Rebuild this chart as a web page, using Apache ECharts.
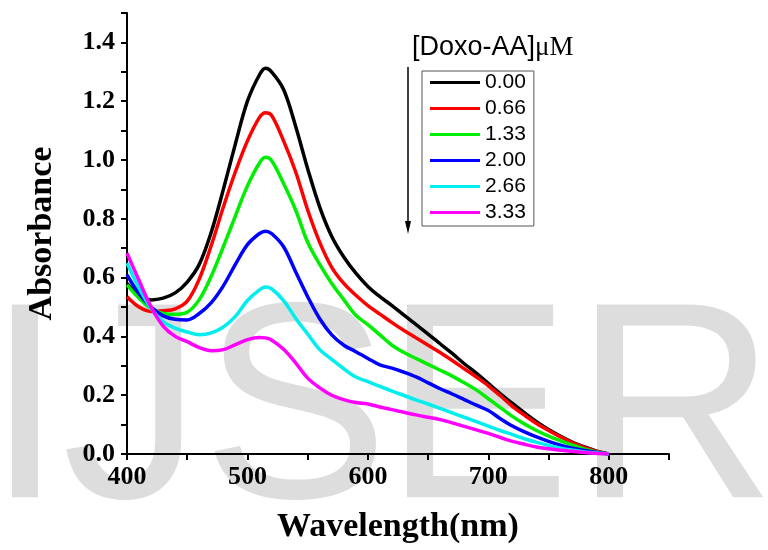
<!DOCTYPE html>
<html>
<head>
<meta charset="utf-8">
<script src="https://cdn.jsdelivr.net/npm/echarts@6/dist/echarts.min.js"></script>
<style>
    html, body { margin: 0; padding: 0; background: #fff; }
    #main { width: 768px; height: 550px; }
</style>
</head>
<body>
<div id="main"></div>
<script>
// wavelength (nm)
var wavelength = [400, 410, 420, 430, 440, 450, 460, 470, 480, 490,
    500, 510, 515, 520, 530, 540, 550, 560, 570, 580, 590,
    600, 610, 620, 630, 640, 650, 660, 670, 680, 690,
    700, 710, 720, 730, 740, 750, 760, 770, 780, 790, 800];

// absorbance for each [Doxo-AA] concentration
var abs000 = [0.580, 0.540, 0.524, 0.530, 0.548, 0.585, 0.645, 0.755, 0.900, 1.055,
    1.200, 1.290, 1.312, 1.300, 1.240, 1.115, 0.970, 0.840, 0.740, 0.670, 0.615,
    0.570, 0.535, 0.505, 0.472, 0.440, 0.408, 0.375, 0.342, 0.307, 0.275,
    0.240, 0.205, 0.172, 0.140, 0.110, 0.083, 0.060, 0.040, 0.024, 0.010, 0.0];
var abs066 = [0.535, 0.500, 0.485, 0.487, 0.494, 0.520, 0.595, 0.710, 0.840, 0.960,
    1.065, 1.145, 1.161, 1.152, 1.065, 0.960, 0.830, 0.720, 0.635, 0.580, 0.540,
    0.505, 0.476, 0.447, 0.420, 0.395, 0.370, 0.345, 0.318, 0.290, 0.262,
    0.232, 0.198, 0.162, 0.132, 0.104, 0.080, 0.058, 0.038, 0.022, 0.009, 0.0];
var abs133 = [0.575, 0.530, 0.495, 0.478, 0.475, 0.482, 0.525, 0.605, 0.705, 0.810,
    0.912, 0.990, 1.009, 0.998, 0.920, 0.830, 0.720, 0.645, 0.580, 0.525, 0.472,
    0.440, 0.405, 0.370, 0.345, 0.325, 0.305, 0.285, 0.265, 0.242, 0.218,
    0.188, 0.158, 0.128, 0.102, 0.080, 0.061, 0.045, 0.030, 0.016, 0.006, 0.0];
var abs200 = [0.609, 0.545, 0.500, 0.470, 0.458, 0.456, 0.478, 0.515, 0.572, 0.645,
    0.712, 0.750, 0.758, 0.750, 0.705, 0.620, 0.535, 0.460, 0.405, 0.370, 0.348,
    0.325, 0.303, 0.292, 0.278, 0.262, 0.242, 0.222, 0.204, 0.185, 0.166,
    0.148, 0.120, 0.095, 0.075, 0.058, 0.043, 0.030, 0.020, 0.012, 0.005, 0.0];
var abs266 = [0.650, 0.565, 0.495, 0.450, 0.428, 0.415, 0.406, 0.412, 0.432, 0.468,
    0.522, 0.558, 0.568, 0.562, 0.522, 0.462, 0.408, 0.355, 0.322, 0.290, 0.262,
    0.246, 0.230, 0.214, 0.199, 0.184, 0.170, 0.155, 0.140, 0.125, 0.110,
    0.095, 0.080, 0.066, 0.052, 0.040, 0.029, 0.020, 0.013, 0.007, 0.003, 0.0];
var abs333 = [0.683, 0.590, 0.500, 0.435, 0.400, 0.382, 0.362, 0.351, 0.355, 0.372,
    0.389, 0.396, 0.395, 0.388, 0.356, 0.310, 0.258, 0.225, 0.200, 0.185, 0.175,
    0.170, 0.160, 0.151, 0.142, 0.133, 0.125, 0.117, 0.106, 0.094, 0.082,
    0.070, 0.056, 0.043, 0.033, 0.024, 0.018, 0.013, 0.009, 0.005, 0.002, 0.0];

var concLabels = ['0.00', '0.66', '1.33', '2.00', '2.66', '3.33'];
var concData = [abs000, abs066, abs133, abs200, abs266, abs333];
var colors = ['#000000', '#ff0000', '#00ee00', '#0000ff', '#00eeee', '#ff00ff'];

function pairs(ys) {
    var out = [];
    for (var i = 0; i < wavelength.length; i++) {
        out.push([wavelength[i], ys[i]]);
    }
    return out;
}

var series = [];
for (var k = 0; k < concLabels.length; k++) {
    series.push({
        name: concLabels[k],
        type: 'line',
        data: pairs(concData[k]),
        showSymbol: false,
        smooth: 0.35,
        lineStyle: { color: colors[k], width: 3.5 },
        itemStyle: { color: colors[k] },
        z: 3
    });
}

var serif = "'Liberation Serif', 'Times New Roman', serif";
var sans = "'Liberation Sans', Arial, sans-serif";

// IJSER watermark letters
var wm = [['I', -14], ['J', 62], ['S', 202], ['E', 384], ['R', 574]];
var graphics = [];
for (var w = 0; w < wm.length; w++) {
    graphics.push({
        type: 'text', z: -10, silent: true,
        style: {
            text: wm[w][0], x: wm[w][1], y: 420,
            font: 'normal 280px ' + sans, fill: '#dddddd',
            textAlign: 'left', textVerticalAlign: 'middle'
        }
    });
}
// legend title
graphics.push({
    type: 'text', z: 10,
    style: {
        x: 412, y: 48, textVerticalAlign: 'middle',
        text: '{a|[Doxo-AA]}{b|μM}',
        rich: {
            a: { fontFamily: sans, fontSize: 27, fill: '#000' },
            b: { fontFamily: serif, fontSize: 27, fill: '#000' }
        }
    }
});
// arrow
graphics.push({
    type: 'line', z: 10,
    shape: { x1: 408, y1: 67, x2: 408, y2: 224 },
    style: { stroke: '#000', lineWidth: 1.5 }
});
graphics.push({
    type: 'polygon', z: 10,
    shape: { points: [[405, 221], [411, 221], [408, 234]] },
    style: { fill: '#000' }
});

var option = {
    animation: false,
    backgroundColor: '#fff',
    color: colors,
    grid: { left: 127, top: 13, right: 99, bottom: 96 },
    legend: {
        orient: 'vertical',
        left: 422, top: 71,
        data: concLabels,
        selectedMode: false,
        icon: 'rect',
        itemWidth: 50, itemHeight: 3,
        itemGap: 5,
        padding: [1, 8, 3, 8],
        borderColor: '#555', borderWidth: 1,
        textStyle: { fontFamily: sans, fontSize: 21, color: '#000' }
    },
    xAxis: {
        type: 'value',
        min: 400, max: 850, interval: 50,
        name: 'Wavelength(nm)',
        nameLocation: 'middle',
        nameGap: 56,
        nameTextStyle: { fontFamily: serif, fontWeight: 'bold', fontSize: 34, color: '#000' },
        axisLine: { show: true, onZero: false, lineStyle: { color: '#000', width: 2 } },
        axisTick: { show: true, inside: false, length: 6, lineStyle: { color: '#000', width: 2 } },
        axisLabel: {
            margin: 10,
            fontFamily: serif, fontWeight: 'bold', fontSize: 26, color: '#000',
            formatter: function (v) { return v % 100 === 0 ? String(v) : ''; }
        },
        splitLine: { show: false }
    },
    yAxis: {
        type: 'value',
        min: 0, max: 1.5, interval: 0.1,
        name: 'Absorbance',
        nameLocation: 'middle',
        nameGap: 68,
        nameRotate: 90,
        nameTextStyle: { fontFamily: serif, fontWeight: 'bold', fontSize: 34, color: '#000' },
        axisLine: { show: true, onZero: false, lineStyle: { color: '#000', width: 2 } },
        axisTick: { show: true, inside: false, length: 6, lineStyle: { color: '#000', width: 2 } },
        axisLabel: {
            margin: 12,
            fontFamily: serif, fontWeight: 'bold', fontSize: 26, color: '#000',
            formatter: function (v) {
                var n = Math.round(v * 10);
                return (n % 2 === 0 && n <= 14) ? (n / 10).toFixed(1) : '';
            }
        },
        splitLine: { show: false }
    },
    graphic: graphics,
    series: series
};

var chart = echarts.init(document.getElementById('main'));
chart.setOption(option);
</script>
</body>
</html>
